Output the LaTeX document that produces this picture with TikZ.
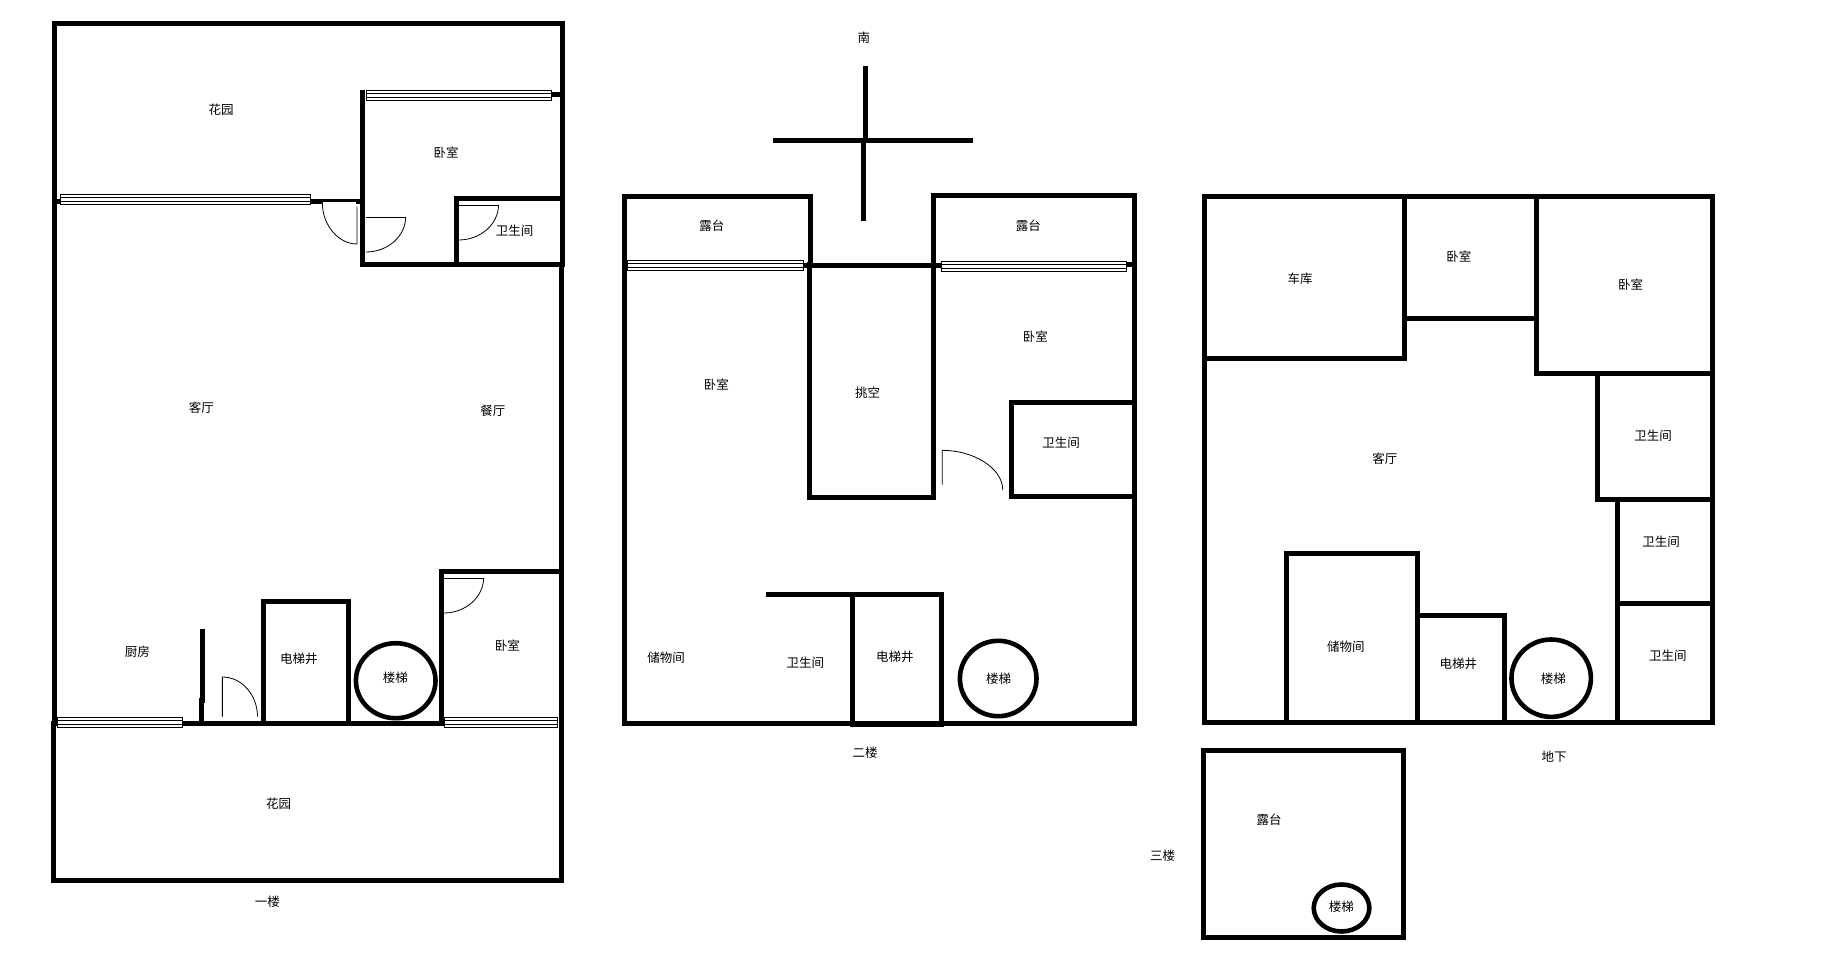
\documentclass[tikz,border=0pt]{standalone}
\usepackage{fontspec}
\newfontfamily\cjk{Noto Sans CJK SC}
\tikzset{
  wallline/.style={draw=black,line width=5pt,line cap=rect,line join=miter},
  thinwall/.style={draw=black,line width=3pt},
  doorline/.style={draw=black,line width=0.8pt},
  windowbox/.style={draw=black,fill=white,line width=0.9pt},
  stairring/.style={draw=black,line width=4.6pt},
  lbl/.style={inner sep=0pt,xshift=0.3pt,yshift=-0.3pt,font=\cjk\fontsize{12.5}{14}\selectfont,text=black},
  planscale/.style 2 args={shift={(#1,0)},xscale=#2}
}
\newcommand{\winbox}[4]{% x1,y1,x2,y2
  \pgfmathsetmacro{\yA}{#2+(#4-#2)*0.33}
  \pgfmathsetmacro{\yB}{#2+(#4-#2)*0.70}
  \draw[windowbox] (#1,#2) rectangle (#3,#4);
  \draw[doorline] (#1,\yA) -- (#3,\yA) (#1,\yB) -- (#3,\yB);
}
\begin{document}
\begin{tikzpicture}[x=1pt,y=-1pt]
\useasboundingbox[fill=white] (0,0) rectangle (1836,957);
% ---- first floor
\begin{scope}[planscale={0}{0.995}]
\draw[wallline] (54.6,202) -- (54.6,23.3) -- (565,23.3) -- (565,265);
\draw[wallline] (54.6,202) -- (54.6,723);
\draw[wallline] (54,723) -- (54,880) -- (564,880) -- (564,265);
\draw[wallline] (364.6,93) -- (364.6,265) -- (565,265);
\draw[wallline] (458.5,265) -- (458.5,199) -- (565,199);
\draw[wallline] (554,95) -- (565,95);
\draw[wallline] (54.6,202) -- (60,202);
\draw[wallline] (312,202) -- (322,202);
\draw[thinwall] (322,201) -- (359,201);
\draw[wallline] (360,202) -- (363,202);
\winbox{368}{90}{554.6}{100}
\winbox{60.8}{194}{312}{204}
\draw[doorline] (358.8,207) -- (358.8,244) .. controls (340,244) and (324,225) .. (324,203);
\draw[doorline] (407.7,217) -- (367.7,217);
\draw[doorline] (407.7,217) .. controls (407.7,236) and (390,252) .. (367.7,252);
\draw[doorline] (501,205) -- (461,205);
\draw[doorline] (501,205) .. controls (501,224) and (483,240) .. (461,240);
\draw[wallline] (204,631) -- (204,653);
\draw[wallline] (203.5,653) -- (203.5,700);
\draw[wallline] (202.5,700) -- (202.5,723);
\draw[wallline] (183.5,723.3) -- (446,723.3);
\draw[wallline] (264.6,723) -- (264.6,601.3) -- (350.4,601.3) -- (350.4,723);
\draw[wallline] (443.5,723) -- (443.5,571) -- (564,571);
\draw[doorline] (223.5,716.7) -- (223.5,677) .. controls (243,677) and (258.8,695) .. (258.8,716.7);
\draw[doorline] (486,578) -- (446,578);
\draw[doorline] (486,578) .. controls (486,597) and (468,613) .. (446,613);
\draw[stairring] (397.7,680.7) ellipse [x radius=40,y radius=37.5];
\winbox{57.7}{717}{183.5}{727}
\winbox{446.5}{717}{560.4}{727}
\node[lbl] (f1garden) at (222,109) {花园};
\node[lbl] (f1bedA) at (448,152) {卧室};
\node[lbl] (f1bath) at (517,230) {卫生间};
\node[lbl] (f1living) at (202,407) {客厅};
\node[lbl] (f1dining) at (495,410) {餐厅};
\node[lbl] (f1kitchen) at (137.7,651) {厨房};
\node[lbl] (f1lift) at (300,659) {电梯井};
\node[lbl] (f1stair) at (397,677) {楼梯};
\node[lbl] (f1bedB) at (509.6,645) {卧室};
\node[lbl] (f1gardenB) at (279.6,803) {花园};
\node[lbl] (f1title) at (268.5,901.7) {一楼};
\end{scope}
% ---- second floor
\begin{scope}[planscale={3.2}{0.995}]
\draw[wallline] (811.5,265) -- (811.5,196.3) -- (624.6,196.3) -- (624.6,723.3) -- (1136.5,723.3) -- (1136.5,195.3) -- (935,195.3) -- (935,497.3) -- (810.4,497.3) -- (810.4,265);
\draw[wallline] (804,265.3) -- (943,265.3);
\draw[wallline] (1128.5,264.7) -- (1136,264.7);
\draw[wallline] (1013.8,496) -- (1013.8,402.3) -- (1137,402.3) -- (1137,496) -- cycle;
\draw[wallline,line cap=butt] (767,594.7) -- (943,594.7) -- (943,724.3) -- (853.8,724.3) -- (853.8,594.7);
\winbox{627.3}{260.3}{803.8}{270.3}
\winbox{943}{261.3}{1128.5}{271.7}
\draw[doorline] (943.8,484.7) -- (943.8,450.3) .. controls (975,450.3) and (1004.6,468) .. (1004.6,490);
\draw[stairring] (1000,678.5) ellipse [x radius=38.5,y radius=37.7];
\draw[wallline,line cap=butt] (773.8,140.3) -- (975,140.3);
\draw[wallline,line cap=butt] (867,66) -- (867,90.7);
\draw[wallline,line cap=butt] (866.3,90.7) -- (866.3,140);
\draw[wallline,line cap=butt] (865.1,140) -- (865.1,195);
\draw[wallline,line cap=butt] (864.3,195) -- (864.3,220.7);
\node[lbl] (north) at (864.6,37.3) {南};
\node[lbl] (f2terrA) at (712,225) {露台};
\node[lbl] (f2terrB) at (1030,225) {露台};
\node[lbl] (f2bedA) at (716.5,384) {卧室};
\node[lbl] (f2void) at (868.5,392) {挑空};
\node[lbl] (f2bedB) at (1037,336.7) {卧室};
\node[lbl] (f2bathA) at (1063,442) {卫生间};
\node[lbl] (f2store) at (666,657) {储物间};
\node[lbl] (f2bathB) at (805.8,662) {卫生间};
\node[lbl] (f2lift) at (895.8,657) {电梯井};
\node[lbl] (f2stair) at (1000,678) {楼梯};
\node[lbl] (f2title) at (866,752) {二楼};
\end{scope}
% ---- basement
\begin{scope}[planscale={8.2}{0.9931}]
\draw[wallline] (1204.8,196.3) rectangle (1716,722.3);
\draw[wallline] (1204.8,358.3) -- (1405.8,358.3) -- (1405.8,196.3);
\draw[wallline] (1405.8,318.3) -- (1538.3,318.3);
\draw[wallline] (1538.8,196.3) -- (1538.8,373.3) -- (1716,373.3);
\draw[wallline] (1600.2,373.3) -- (1600.2,499.3) -- (1716,499.3);
\draw[wallline] (1620,499.3) -- (1620,722.3);
\draw[wallline] (1620,603.3) -- (1715.4,603.3);
\draw[wallline] (1287.3,722.3) -- (1287.3,553.3) -- (1418.9,553.3) -- (1418.9,722.3);
\draw[wallline] (1418.9,615.3) -- (1506.4,615.3) -- (1506.4,722.3);
\draw[stairring] (1553.7,678.2) ellipse [x radius=40,y radius=38.7];
\node[lbl] (bgarage) at (1300.7,278.3) {车库};
\node[lbl] (bbedA) at (1460.5,256.3) {卧室};
\node[lbl] (bbedB) at (1633.3,284.3) {卧室};
\node[lbl] (bbathA) at (1656,435.3) {卫生间};
\node[lbl] (bliving) at (1386,458.3) {客厅};
\node[lbl] (bbathB) at (1664,541.3) {卫生间};
\node[lbl] (bstore) at (1346.6,646) {储物间};
\node[lbl] (blift) at (1460,664) {电梯井};
\node[lbl] (bstair) at (1555.6,678) {楼梯};
\node[lbl] (bbathC) at (1671,655) {卫生间};
\node[lbl] (btitle) at (1556.4,756) {地下};
\end{scope}
% ---- third floor
\begin{scope}[planscale={8.0}{0.9931}]
\draw[wallline] (1204,750.3) rectangle (1405,937.3);
\draw[stairring] (1342.8,908) ellipse [x radius=28,y radius=23.5];
\node[lbl] (f3terr) at (1269.6,819) {露台};
\node[lbl] (f3title) at (1162.4,855) {三楼};
\node[lbl] (f3stair) at (1342.4,906) {楼梯};
\end{scope}
\end{tikzpicture}
\end{document}
